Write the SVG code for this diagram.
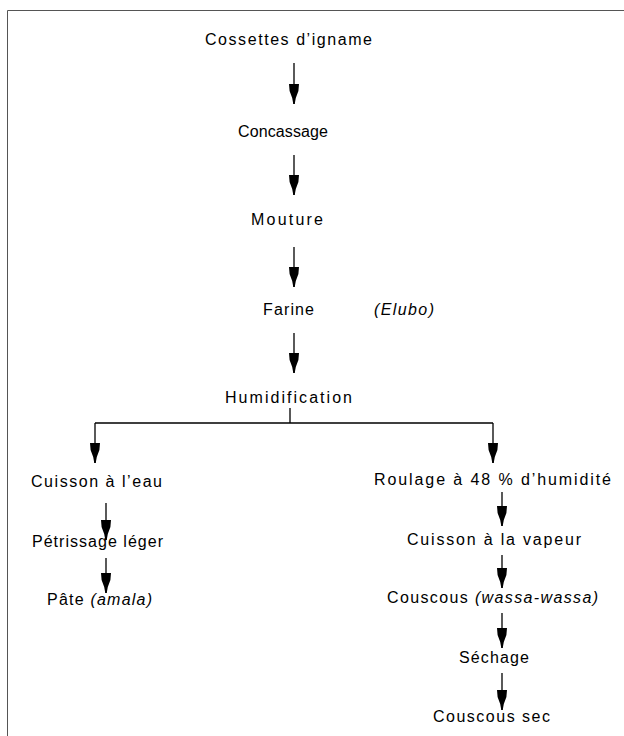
<svg xmlns="http://www.w3.org/2000/svg" width="624" height="736" viewBox="0 0 624 736">
<style>
  text { font-family: "Liberation Sans", Arial, sans-serif; font-size: 16px; fill: #000; }
  .it { font-style: italic; }
  .ln { stroke: #000; stroke-width: 1.3; fill: none; }
  .frame { stroke: #555; stroke-width: 1; fill: none; }
</style>
<defs>
  <marker id="arr" markerUnits="userSpaceOnUse" viewBox="0 0 20 10" refX="20" refY="5" markerWidth="20" markerHeight="10" orient="auto">
    <path d="M0,0 L7,0.6 L14,3.2 L20,4.3 L20,5.7 L14,6.8 L7,9.4 L0,10 Z" fill="#000"/>
  </marker>
</defs>
<rect width="624" height="736" fill="#fff"/>
<path class="frame" d="M7.5,736 L7.5,10.5 L624,10.5"/>

<g id="connectors">
  <line class="ln" x1="294" y1="63" x2="294" y2="104" marker-end="url(#arr)"/>
  <line class="ln" x1="294" y1="155" x2="294" y2="195" marker-end="url(#arr)"/>
  <line class="ln" x1="294" y1="247" x2="294" y2="287" marker-end="url(#arr)"/>
  <line class="ln" x1="294" y1="333" x2="294" y2="373" marker-end="url(#arr)"/>
  <path class="ln" d="M290,408 L290,423 M95,423 L493,423"/>
  <line class="ln" x1="95" y1="423" x2="95" y2="463" marker-end="url(#arr)"/>
  <line class="ln" x1="493" y1="423" x2="493" y2="463" marker-end="url(#arr)"/>
  <line class="ln" x1="106" y1="503" x2="106" y2="540" marker-end="url(#arr)"/>
  <line class="ln" x1="106" y1="558" x2="106" y2="593" marker-end="url(#arr)"/>
  <line class="ln" x1="502" y1="492" x2="502" y2="526" marker-end="url(#arr)"/>
  <line class="ln" x1="502" y1="555" x2="502" y2="588" marker-end="url(#arr)"/>
  <line class="ln" x1="502" y1="613" x2="502" y2="648" marker-end="url(#arr)"/>
  <line class="ln" x1="502" y1="673" x2="502" y2="710" marker-end="url(#arr)"/>
</g>

<g id="n-cossettes"><text x="205" y="45" textLength="167">Cossettes d’igname</text></g>
<g id="n-concassage"><text x="238" y="137" textLength="90">Concassage</text></g>
<g id="n-mouture"><text x="251" y="225" textLength="72">Mouture</text></g>
<g id="n-farine"><text x="263" y="315" textLength="51">Farine</text></g>
<g id="n-elubo"><text class="it" x="374" y="315" textLength="60">(Elubo)</text></g>
<g id="n-humidification"><text x="225" y="403" textLength="127">Humidification</text></g>
<g id="n-cuisson-eau"><text x="31" y="487" textLength="131">Cuisson à l’eau</text></g>
<g id="n-petrissage"><text x="32" y="547" textLength="131">Pétrissage léger</text></g>
<g id="n-pate"><text x="47" y="605" textLength="105">Pâte <tspan class="it">(amala)</tspan></text></g>
<g id="n-roulage"><text x="374" y="485" textLength="237">Roulage à 48 % d’humidité</text></g>
<g id="n-vapeur"><text x="407" y="545" textLength="174">Cuisson à la vapeur</text></g>
<g id="n-wassa"><text x="387" y="603" textLength="211">Couscous <tspan class="it">(wassa-wassa)</tspan></text></g>
<g id="n-sechage"><text x="459" y="663" textLength="70">Séchage</text></g>
<g id="n-couscous-sec"><text x="433" y="722" textLength="117">Couscous sec</text></g>
</svg>
